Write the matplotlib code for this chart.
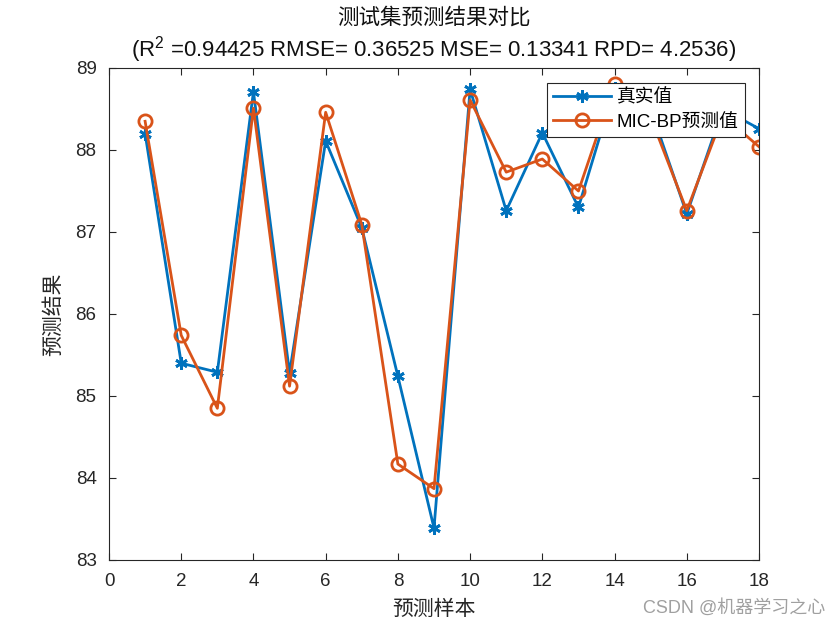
import matplotlib
matplotlib.use("Agg")
import matplotlib.pyplot as plt
import numpy as np

plt.rcParams['font.family'] = ['Liberation Sans', 'Noto Sans CJK SC', 'DejaVu Sans']
plt.rcParams['mathtext.fontset'] = 'custom'
plt.rcParams['mathtext.rm'] = 'Liberation Sans'
plt.rcParams['mathtext.it'] = 'Liberation Sans'

samples = list(range(1, 19))
true_vals = [88.20, 85.40, 85.29, 88.71, 85.28, 88.11, 87.05, 85.24, 83.39,
             88.74, 87.26, 88.21, 87.30, 88.76, 88.50, 87.22, 88.50, 88.26]
pred_vals = [88.35, 85.74, 84.85, 88.51, 85.12, 88.46, 87.09, 84.17, 83.87,
             88.61, 87.73, 87.89, 87.50, 88.80, 88.40, 87.26, 88.42, 88.04]

title_line1 = "测试集预测结果对比"
title_line2 = "(R$^2$ =0.94425 RMSE= 0.36525 MSE= 0.13341 RPD= 4.2536)"
xlabel = "预测样本"
ylabel = "预测结果"
legend_labels = ["真实值", "MIC-BP预测值"]
xticks = [0, 2, 4, 6, 8, 10, 12, 14, 16, 18]
yticks = [83, 84, 85, 86, 87, 88, 89]

blue = '#0072BD'
orange = '#D95319'

fig = plt.figure(figsize=(8.4, 6.3), dpi=100)
ax = fig.add_axes([109/840, 70/630, 650/840, 492/630])

ax.plot(samples, true_vals, color=blue, lw=2, marker=(6, 2, 0), markersize=9,
        markeredgewidth=2, label=legend_labels[0])
ax.plot(samples, pred_vals, color=orange, lw=2, marker='o', markersize=9.5,
        markerfacecolor='none', markeredgewidth=2, label=legend_labels[1])

ax.set_xlim(0, 18)
ax.set_ylim(83, 89)
ax.set_xticks(xticks)
ax.set_yticks(yticks)
ax.tick_params(direction='in', top=True, right=True, labelsize=13.5, length=5,
               color='#262626', labelcolor='#262626', pad=9)
for s in ax.spines.values():
    s.set_color('#262626')
    s.set_linewidth(0.8)

ax.set_xlabel(xlabel, fontsize=15, color='#262626', family=['Noto Sans CJK SC'], labelpad=6)
ax.set_ylabel(ylabel, fontsize=15, color='#262626', family=['Noto Sans CJK SC'], labelpad=8)

fig.text(434/840, 1 - 18/630, title_line1, ha='center', va='center', fontsize=15.5,
         color='#111111', family=['Noto Sans CJK SC'])
fig.text(434/840, 1 - 50/630, title_line2, ha='center', va='center', fontsize=16,
         color='#111111')

leg = ax.legend(loc='upper right', bbox_to_anchor=(0.979, 0.97), borderaxespad=0,
                fontsize=13.5, fancybox=False, edgecolor='#262626', framealpha=1,
                handlelength=3.1, borderpad=0.35, labelspacing=0.35, handletextpad=0.3)
leg.get_frame().set_linewidth(0.8)

fig.text(825/840, 1 - 608/630, "CSDN @机器学习之心", ha='right', va='center',
         fontsize=13, color='#a0a0a0')

fig.savefig('out.png', dpi=100)
